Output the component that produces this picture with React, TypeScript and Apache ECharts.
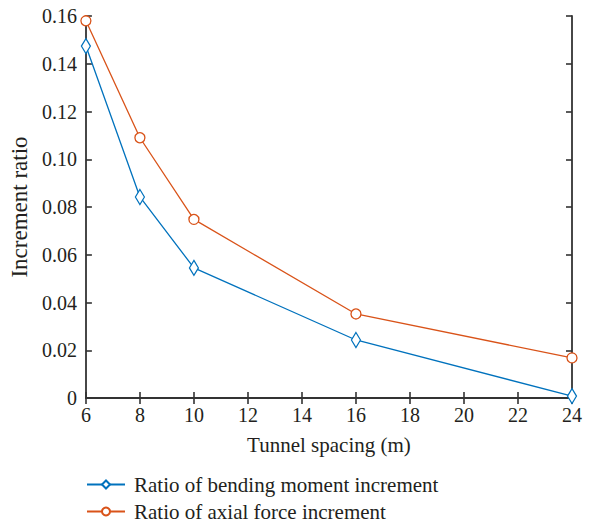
import React, { useEffect, useRef } from "react";
import * as echarts from "echarts";

const spacing = [6, 8, 10, 16, 24];
const bendingRatio = [0.1474, 0.0842, 0.0545, 0.0243, 0.0008];
const axialRatio = [0.158, 0.109, 0.0748, 0.0352, 0.0168];
const seriesNames = ["Ratio of bending moment increment", "Ratio of axial force increment"];

const FONT = "'Liberation Serif', 'Times New Roman', serif";
const AXIS_COLOR = "#333";
const TEXT_COLOR = "#231f20";

export default function App() {
  const ref = useRef<HTMLDivElement>(null);
  useEffect(() => {
    if (!ref.current) return;
    const chart = echarts.init(ref.current, undefined, { renderer: "svg" });
    const toPairs = (vals: number[]) => spacing.map((x, i) => [x, vals[i]]);
    const axisLine = { show: true, lineStyle: { color: AXIS_COLOR, width: 1.8 } };
    const tick = { show: true, inside: true, length: 6, lineStyle: { color: AXIS_COLOR, width: 1.6 } };
    const legendBase = {
      orient: "vertical",
      left: 81,
      itemWidth: 38,
      itemHeight: 10,
      textStyle: { fontFamily: FONT, fontSize: 21, color: TEXT_COLOR, padding: [0, 0, 0, 4] },
    };
    chart.setOption({
      animation: false,
      backgroundColor: "#fff",
      textStyle: { fontFamily: FONT },
      grid: { left: 85, right: 18, top: 16, bottom: 125, containLabel: false },
      legend: [
        { ...legendBase, top: 469, data: [seriesNames[0]] },
        { ...legendBase, top: 496, data: [seriesNames[1]] },
      ],
      xAxis: [
        {
          type: "value",
          min: 6,
          max: 24,
          interval: 2,
          axisLine,
          axisTick: tick,
          splitLine: { show: false },
          axisLabel: { fontFamily: FONT, fontSize: 20, color: TEXT_COLOR, margin: 7 },
          name: "Tunnel spacing (m)",
          nameLocation: "middle",
          nameGap: 36,
          nameTextStyle: { fontFamily: FONT, fontSize: 21, color: TEXT_COLOR },
        },
        {
          type: "value",
          position: "top",
          min: 6,
          max: 24,
          interval: 2,
          axisLine,
          axisTick: tick,
          axisLabel: { show: false },
          splitLine: { show: false },
        },
      ],
      yAxis: [
        {
          type: "value",
          min: 0,
          max: 0.16,
          interval: 0.02,
          axisLine,
          axisTick: tick,
          splitLine: { show: false },
          axisLabel: {
            fontFamily: FONT,
            fontSize: 20,
            color: TEXT_COLOR,
            margin: 9,
            formatter: (v: number) => (v === 0 ? "0" : v.toFixed(2)),
          },
          name: "Increment ratio",
          nameLocation: "middle",
          nameGap: 54,
          nameTextStyle: { fontFamily: FONT, fontSize: 23, color: TEXT_COLOR },
        },
        {
          type: "value",
          position: "right",
          min: 0,
          max: 0.16,
          interval: 0.02,
          axisLine,
          axisTick: tick,
          axisLabel: { show: false },
          splitLine: { show: false },
        },
      ],
      series: [
        {
          name: seriesNames[0],
          type: "line",
          data: toPairs(bendingRatio),
          symbol: "diamond",
          symbolSize: [9, 15],
          showAllSymbol: true,
          itemStyle: { color: "#fff", borderColor: "#0072BD", borderWidth: 1.3 },
          lineStyle: { color: "#0072BD", width: 1.3 },
          clip: false,
        },
        {
          name: seriesNames[1],
          type: "line",
          data: toPairs(axialRatio),
          symbol: "circle",
          symbolSize: 10,
          itemStyle: { color: "#fff", borderColor: "#D95319", borderWidth: 1.3 },
          lineStyle: { color: "#D95319", width: 1.3 },
          clip: false,
        },
      ],
    });
    return () => chart.dispose();
  }, []);
  return <div ref={ref} style={{ width: 590, height: 523, position: "absolute", left: 0, top: 0 }} />;
}
